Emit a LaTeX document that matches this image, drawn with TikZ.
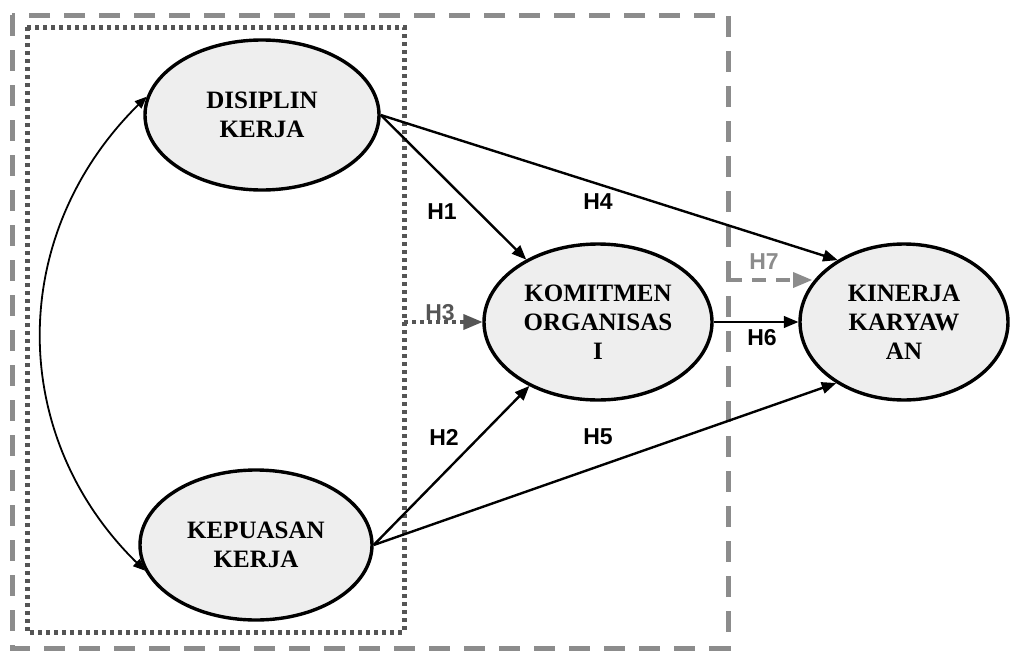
\documentclass[tikz,border=0pt]{standalone}
\usepackage{fontspec}
\setmainfont{Liberation Serif}
\newfontfamily\hfont{Liberation Sans}
\usepackage{xcolor}
\usetikzlibrary{arrows,shapes.geometric}
\definecolor{boxgray}{HTML}{8C8C8C}
\definecolor{dotgray}{HTML}{555555}
\definecolor{varfill}{HTML}{EEEEEE}

\begin{document}
\begin{tikzpicture}[x=1pt,y=-1pt,
  var/.style={ellipse,draw=black,line width=3.4pt,fill=varfill,inner sep=0pt,
    align=center,font=\fontsize{25}{29}\selectfont\bfseries},
  hyp/.style={font=\hfont\fontsize{23}{23}\selectfont\bfseries},
  link/.style={->,line width=2.4pt}]
\useasboundingbox (0,0) rectangle (1010,656);
\begin{scope}[>=triangle 45]

    \draw[boxgray,line width=5pt,dash pattern=on 21pt off 14pt] (12,15) rectangle (728,648);
    \draw[dotgray,line width=5pt,dash pattern=on 4pt off 4pt] (27,27) rectangle (404,632);

    \node[var,minimum width=234pt,minimum height=150pt] (dk) at (262,115) {DISIPLIN\\KERJA};
    \node[var,minimum width=232pt,minimum height=150pt] (kp) at (256,545) {KEPUASAN\\KERJA};
    \node[var,minimum width=228pt,minimum height=156pt] (ko) at (598,322) {KOMITMEN\\ORGANISAS\\I};
    \node[var,minimum width=208pt,minimum height=156pt] (ki) at (904,322) {KINERJA\\KARYAW\\AN};

    \coordinate (h3s) at (404,322);
    \coordinate (h7s) at (728,280);
    \coordinate (h7e) at (812,280);

    \draw[<->,line width=1.8pt] (dk.171) .. controls (5,230) and (5,440) .. (kp.193);
    \draw[link] (dk.east) -- (ko.139);
    \draw[link] (dk.east) -- (ki.137);
    \draw[link] (kp.east) -- (ko.223);
    \draw[link] (kp.east) -- (ki.222);
    \draw[link] (ko.east) -- (ki.west);
    \draw[->,dotgray,line width=3.5pt,dash pattern=on 4pt off 4pt] (h3s) -- (ko.west);
    \draw[->,boxgray,line width=3.5pt,dash pattern=on 14pt off 10pt] (h7s) -- (h7e);

    \node[hyp] (h1) at (442,212) {H1};
    \node[hyp] (h4) at (598,202) {H4};
    \node[hyp] (h2) at (444,437) {H2};
    \node[hyp] (h5) at (598,437) {H5};
    \node[hyp] (h6) at (762,338) {H6};
    \node[hyp,dotgray] (h3) at (440,313) {H3};
    \node[hyp,boxgray] (h7) at (764,262) {H7};

\end{scope}
\end{tikzpicture}
\end{document}
